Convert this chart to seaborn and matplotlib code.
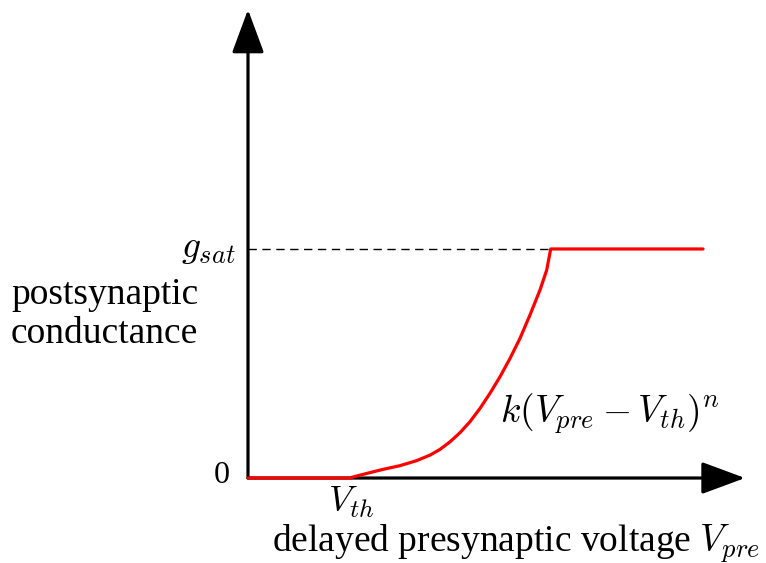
import matplotlib.pyplot as plt
import pandas as pd
import seaborn as sns

# presynaptic voltage (axis units) and conductance (g / g_sat)
v_pre = [0.0, 1.03, 1.037, 1.187, 1.353, 1.52, 1.687, 1.82, 1.92, 2.02, 2.12, 2.22, 2.32,
         2.42, 2.52, 2.62, 2.72, 2.82, 2.92, 2.987, 3.027, 4.55]
g_post = [0.0, 0.0, 0.003, 0.020, 0.038, 0.054, 0.076, 0.100, 0.125, 0.158, 0.198, 0.246,
          0.304, 0.370, 0.442, 0.522, 0.610, 0.712, 0.821, 0.908, 1.0, 1.0]
v_th = 1.03
g_sat = 1.0
x_tip = 4.97
y_tip = 2.045

sns.set_theme(style='white')
plt.rcParams['font.family'] = ['Liberation Serif', 'DejaVu Serif']
plt.rcParams['mathtext.fontset'] = 'cm'
plt.rcParams['text.color'] = 'black'

df = pd.DataFrame({'v': v_pre, 'g': g_post})

fig = plt.figure(figsize=(7.66, 5.63), dpi=100)
ax = fig.add_axes([0, 0, 1, 1])
ax.set_xlim(-2.48, 5.18)
ax.set_ylim(-0.371, 2.087)
ax.axis('off')

arrow = dict(arrowstyle='-|>,head_length=1.35,head_width=0.5', color='black',
             lw=2.3, mutation_scale=20, shrinkA=0, shrinkB=0)
ax.annotate('', xy=(x_tip, 0), xytext=(0, 0), arrowprops=arrow)
ax.annotate('', xy=(0, y_tip), xytext=(0, 0), arrowprops=arrow)

ax.plot([0, 3.02], [g_sat, g_sat], color='black', lw=1.0, dashes=(6, 4))
sns.lineplot(data=df, x='v', y='g', color='red', lw=2.3, ax=ax, zorder=5, sort=False)

fs = 27
ax.text(-0.12, g_sat, r'$g_{sat}$', ha='right', va='center', fontsize=fs)
ax.text(-2.37, 0.80, 'postsynaptic', ha='left', va='center', fontsize=fs)
ax.text(-2.37, 0.63, 'conductance', ha='left', va='center', fontsize=fs)
ax.text(-0.18, 0.01, '0', ha='right', va='center', fontsize=fs - 4)
ax.text(v_th, -0.03, r'$V_{th}$', ha='center', va='top', fontsize=fs - 1)
ax.text(2.52, 0.28, r'$k(V_{pre}-V_{th})^n$', ha='left', va='center', fontsize=fs)
ax.text(5.12, -0.32, r'delayed presynaptic voltage $V_{pre}$', ha='right', va='baseline',
        fontsize=fs)

fig.savefig('out.png', dpi=100)
